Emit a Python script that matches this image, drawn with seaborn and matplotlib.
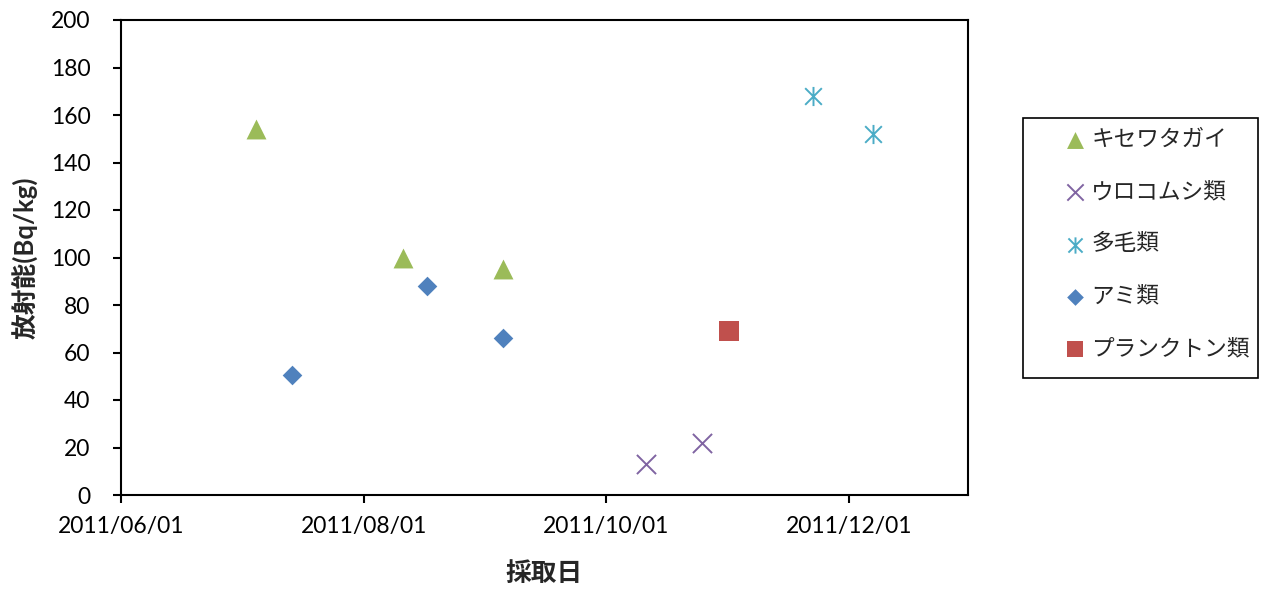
import matplotlib
matplotlib.use("Agg")
import matplotlib.pyplot as plt
import matplotlib.dates as mdates
from matplotlib.path import Path
from matplotlib.patches import Rectangle
import pandas as pd
import seaborn as sns

# Sampling results (radioactivity, Bq/kg) per organism group
species = ["キセワタガイ", "ウロコムシ類", "多毛類", "アミ類", "プランクトン類"]

kisewata_dates = ["2011-07-05", "2011-08-11", "2011-09-05"]
kisewata_vals = [154, 100, 95]

urokomushi_dates = ["2011-10-11", "2011-10-25"]
urokomushi_vals = [13, 22]

tamou_dates = ["2011-11-22", "2011-12-07"]
tamou_vals = [168, 152]

ami_dates = ["2011-07-14", "2011-08-17", "2011-09-05"]
ami_vals = [50.5, 88, 66]

plankton_dates = ["2011-11-01"]
plankton_vals = [69]

x_ticks = ["2011-06-01", "2011-08-01", "2011-10-01", "2011-12-01"]
x_range = ["2011-06-01", "2011-12-31"]
y_ticks = list(range(0, 201, 20))

frames = []
for name, d, v in [
    (species[0], kisewata_dates, kisewata_vals),
    (species[1], urokomushi_dates, urokomushi_vals),
    (species[2], tamou_dates, tamou_vals),
    (species[3], ami_dates, ami_vals),
    (species[4], plankton_dates, plankton_vals),
]:
    frames.append(pd.DataFrame({"採取日": pd.to_datetime(d), "放射能": v, "種類": name}))
df = pd.concat(frames, ignore_index=True)

sns.set_style("ticks")
plt.rcParams["font.family"] = ["Lato", "Noto Sans CJK JP", "DejaVu Sans"]

# six-spoke asterisk marker
asterisk = Path(
    [(-1, -1), (1, 1), (-1, 1), (1, -1), (0, -1.15), (0, 1.15)],
    [Path.MOVETO, Path.LINETO, Path.MOVETO, Path.LINETO, Path.MOVETO, Path.LINETO],
)

styles = {
    "キセワタガイ": dict(marker="^", color="#9BBB59", s=205, lw=0),
    "ウロコムシ類": dict(marker="x", color="#8064A2", s=190, lw=1.4),
    "多毛類": dict(marker=asterisk, color="#4BACC6", s=190, lw=1.4),
    "アミ類": dict(marker="D", color="#4F81BD", s=100, lw=0),
    "プランクトン類": dict(marker="s", color="#C0504D", s=205, lw=0),
}

fig = plt.figure(figsize=(12.86, 5.90), dpi=100)
ax = fig.add_axes([121 / 1286, 1 - 495 / 590, (968 - 121) / 1286, (495 - 20) / 590])

for name in species:
    st = styles[name]
    sub = df[df["種類"] == name]
    sns.scatterplot(
        data=sub, x="採取日", y="放射能", ax=ax,
        marker=st["marker"], color=st["color"], edgecolor=st["color"],
        s=st["s"], linewidth=st["lw"], label=name, legend=False, zorder=3,
    )

ax.set_ylim(0, 200)
ax.set_yticks(y_ticks)
ax.set_xlim(pd.to_datetime(x_range[0]), pd.to_datetime(x_range[1]))
ax.set_xticks(pd.to_datetime(x_ticks))
ax.xaxis.set_major_formatter(mdates.DateFormatter("%Y/%m/%d"))

for sp in ax.spines.values():
    sp.set_color("black")
    sp.set_linewidth(1.5)
ax.tick_params(axis="both", direction="out", length=6, width=1.5, color="black",
               labelsize=16.5, labelcolor="black")
ax.tick_params(axis="y", pad=16)
ax.tick_params(axis="x", pad=9)

ax.set_xlabel("採取日", fontsize=18.5, fontweight="bold")
ax.set_ylabel("放射能(Bq/kg)", fontsize=18.5, fontweight="bold")
ax.xaxis.set_label_coords(0.5, -0.138)
ax.yaxis.set_label_coords(-0.097, 0.5)

# legend box
fig.patches.append(Rectangle((1023 / 1286, 1 - 378 / 590), 235 / 1286, 260 / 590,
                             transform=fig.transFigure, fill=False,
                             edgecolor="black", linewidth=1.2))
handles, labels = ax.get_legend_handles_labels()
leg = ax.legend(handles, labels, loc="center left",
                bbox_to_anchor=(1064 / 1286, 1 - 244 / 590), bbox_transform=fig.transFigure,
                frameon=False, fontsize=16.3, borderpad=0, borderaxespad=0,
                handlelength=1.0, handletextpad=0.2, labelspacing=1.3, markerscale=0.85)
for t in leg.get_texts():
    t.set_family(["Noto Sans CJK JP"])

fig.savefig("out.png", dpi=100, facecolor="white")
